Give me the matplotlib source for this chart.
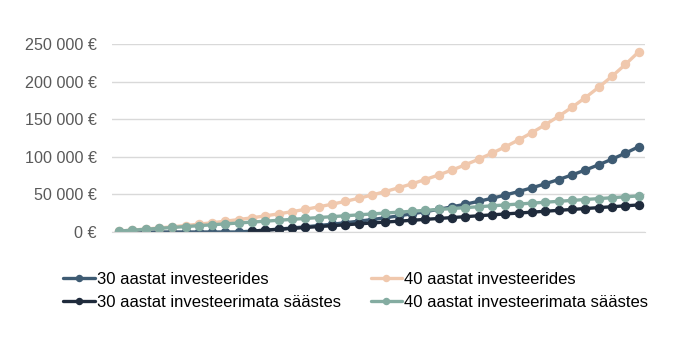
import matplotlib.pyplot as plt
from matplotlib.ticker import FuncFormatter

# years 1..40
years = list(range(40))

# 40 years investing (value at end of each year)
invest_40 = [1200, 2484, 3858, 5328, 6901, 8584, 10385, 12312, 14374, 16580,
             18940, 21466, 24169, 27060, 30155, 33466, 37008, 40799, 44855, 49195,
             53838, 58807, 64124, 69812, 75899, 82412, 89381, 96837, 104816, 113353,
             122488, 132262, 142720, 153911, 165884, 178696, 192405, 207073, 222768, 239562]

# 30 years investing (starts 10 years later)
invest_30 = [0, 0, 0, 0, 0, 0, 0, 0, 0, 0,
             1200, 2484, 3858, 5328, 6901, 8584, 10385, 12312, 14374, 16580,
             18940, 21466, 24169, 27060, 30155, 33466, 37008, 40799, 44855, 49195,
             53838, 58807, 64124, 69812, 75899, 82412, 89381, 96837, 104816, 113353]

# 40 years saving without investing
save_40 = [1200, 2400, 3600, 4800, 6000, 7200, 8400, 9600, 10800, 12000,
           13200, 14400, 15600, 16800, 18000, 19200, 20400, 21600, 22800, 24000,
           25200, 26400, 27600, 28800, 30000, 31200, 32400, 33600, 34800, 36000,
           37200, 38400, 39600, 40800, 42000, 43200, 44400, 45600, 46800, 48000]

# 30 years saving without investing
save_30 = [None] * 10 + [1200, 2400, 3600, 4800, 6000, 7200, 8400, 9600, 10800, 12000,
                         13200, 14400, 15600, 16800, 18000, 19200, 20400, 21600, 22800, 24000,
                         25200, 26400, 27600, 28800, 30000, 31200, 32400, 33600, 34800, 36000]

save_30 = [float('nan') if v is None else v for v in save_30]

labels = ["30 aastat investeerides", "40 aastat investeerides",
          "30 aastat investeerimata säästes", "40 aastat investeerimata säästes"]
colors = ["#3e5b73", "#f0c8ad", "#1f2b3c", "#84aca1"]

plt.rcParams['font.family'] = ['Liberation Sans', 'DejaVu Sans']

fig = plt.figure(figsize=(6.8, 3.55), dpi=100)
ax = fig.add_axes([0.165, 0.3465, 0.784, 0.5295])

lines = []
for vals, lab, col in zip([invest_30, invest_40, save_30, save_40], labels, colors):
    ln, = ax.plot(years, vals, color=col, lw=2.4, marker='o', markersize=5.8,
                  label=lab, solid_capstyle='round')
    lines.append(ln)

ax.set_xlim(-0.5, 39.5)
ax.set_ylim(0, 250000)
ax.set_yticks(range(0, 250001, 50000))
ax.yaxis.set_major_formatter(FuncFormatter(lambda v, p: "{:,}".format(int(v)).replace(",", " ") + " €"))
ax.set_xticks([])
ax.grid(axis='y', color='#d9d9d9', lw=1)
ax.set_axisbelow(True)
for s in ['top', 'right', 'left']:
    ax.spines[s].set_visible(False)
ax.spines['bottom'].set_color('#d9d9d9')
ax.tick_params(axis='y', length=0, pad=11, labelsize=11.6, labelcolor='#595959')

# row-major legend order: matplotlib fills columns first
order = [0, 2, 1, 3]
fig.legend([lines[i] for i in order], [labels[i] for i in order],
           loc='upper left', bbox_to_anchor=(0.0926, 0.2335), ncol=2, frameon=False,
           fontsize=12, handlelength=1.9, handletextpad=0.12, columnspacing=1.8,
           labelspacing=0.45, borderpad=0, borderaxespad=0, markerscale=0.75)

fig.savefig("out.png", dpi=100)
